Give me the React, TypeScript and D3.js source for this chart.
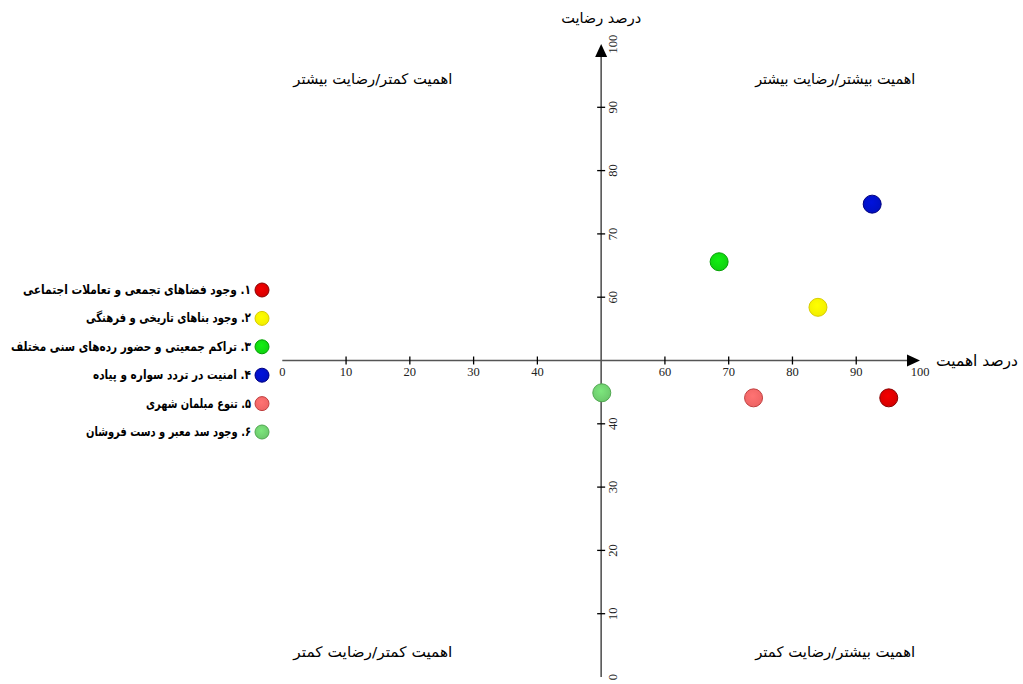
import React from "react";
import * as d3 from "d3";

const labels = [
  "۱. وجود فضاهای تجمعی و تعاملات اجتماعی",
  "۲. وجود بناهای تاریخی و فرهنگی",
  "۳. تراکم جمعیتی و حضور رده‌های سنی مختلف",
  "۴. امنیت در تردد سواره و پیاده",
  "۵. تنوع مبلمان شهری",
  "۶. وجود سد معبر و دست فروشان",
];
const importance = [95.1, 84.0, 68.5, 92.5, 73.9, 50.1];
const satisfaction = [44.1, 58.4, 65.6, 74.7, 44.1, 44.9];
const colors = ["#d40000", "#f2ee00", "#10d010", "#0010c0", "#ee6464", "#6cc86c"];
const strokes = ["#8a0000", "#d8cc00", "#00a000", "#000080", "#c04040", "#50a850"];
const xTicks = [0, 10, 20, 30, 40, 60, 70, 80, 90, 100];
const yTicks = [0, 10, 20, 30, 40, 60, 70, 80, 90, 100];
const quadrantLabels = [
  "اهمیت کمتر/رضایت بیشتر",
  "اهمیت بیشتر/رضایت بیشتر",
  "اهمیت کمتر/رضایت کمتر",
  "اهمیت بیشتر/رضایت کمتر",
];
const xTitle = "درصد اهمیت";
const yTitle = "درصد رضایت";

// layout (rendered widths of the Persian texts)
const legendWidths = [228, 165, 240, 158, 105, 165];
const quadWidths = [159, 160, 159, 160];

export default function App() {
  const W = 1023, H = 684;
  const x = d3.scaleLinear().domain([0, 100]).range([282.3, 920]);
  const y = d3.scaleLinear().domain([0, 100]).range([677, 44]);
  const cx = x(50), cy = y(50);
  const axisColor = "#555";
  const persian = "'DejaVu Sans', sans-serif";
  const serif = "'Liberation Serif', 'DejaVu Serif', serif";
  const quadPos = [
    [x(14.2), 84],
    [x(86.7), 84],
    [x(14.2), 657],
    [x(86.7), 657],
  ];
  return (
    <svg width={W} height={H} style={{ position: "absolute", left: 0, top: 0, background: "#fff" }}>
      <defs>
        {colors.map((c, i) => (
          <radialGradient key={i} id={`g${i}`} cx="45%" cy="40%" r="60%">
            <stop offset="0%" stopColor={d3.color(c)!.brighter(0.4).formatHex()} />
            <stop offset="100%" stopColor={c} />
          </radialGradient>
        ))}
      </defs>
      {/* axes */}
      <line x1={x(0)} x2={x(100) - 12} y1={cy} y2={cy} stroke={axisColor} strokeWidth={1.6} />
      <path d={`M${x(100) - 13},${cy - 6} L${x(100)},${cy} L${x(100) - 13},${cy + 6} Z`} fill="#000" />
      <line x1={cx} x2={cx} y1={y(0)} y2={y(100) + 12} stroke={axisColor} strokeWidth={1.6} />
      <path d={`M${cx - 6},${y(100) + 13} L${cx},${y(100)} L${cx + 6},${y(100) + 13} Z`} fill="#000" />
      {xTicks.map((t) => (
        <g key={`x${t}`}>
          {t !== 0 && t !== 100 && (
            <line x1={x(t)} x2={x(t)} y1={cy - 4} y2={cy + 4} stroke="#000" strokeWidth={1.3} />
          )}
          <text x={x(t)} y={cy + 15} textAnchor="middle" fontFamily={serif} fontSize={12.5} fill="#222">
            {t}
          </text>
        </g>
      ))}
      {yTicks.map((t) => (
        <g key={`y${t}`}>
          {t !== 0 && t !== 100 && (
            <line x1={cx - 4} x2={cx + 4} y1={y(t)} y2={y(t)} stroke="#000" strokeWidth={1.3} />
          )}
          <text
            transform={`translate(${cx + 16},${y(t)}) rotate(-90)`}
            textAnchor="middle"
            fontFamily={serif}
            fontSize={12.5}
            fill="#222"
          >
            {t}
          </text>
        </g>
      ))}
      {/* axis titles */}
      <text x={cx} y={23} textAnchor="middle" fontFamily={persian} fontSize={14.5} fill="#000" direction="rtl">
        {yTitle}
      </text>
      <text x={1018} y={cy + 5} textAnchor="start" fontFamily={persian} fontSize={15.5} fill="#000" direction="rtl">
        {xTitle}
      </text>
      {/* quadrant labels */}
      {quadrantLabels.map((q, i) => (
        <text
          key={q + i}
          x={quadPos[i][0]}
          y={quadPos[i][1]}
          textAnchor="middle"
          fontFamily={persian}
          fontSize={14.5}
          fill="#000"
          direction="rtl"
          textLength={quadWidths[i]}
          lengthAdjust="spacingAndGlyphs"
        >
          {q}
        </text>
      ))}
      {/* points */}
      {importance.map((v, i) => (
        <circle
          key={`p${i}`}
          cx={x(v)}
          cy={y(satisfaction[i])}
          r={9}
          fill={`url(#g${i})`}
          stroke={strokes[i]}
          strokeWidth={1}
        />
      ))}
      {/* legend */}
      {labels.map((l, i) => {
        const ly = 290 + i * 28.4;
        return (
          <g key={`l${i}`}>
            <circle cx={262} cy={ly} r={7} fill={`url(#g${i})`} stroke={strokes[i]} strokeWidth={1} />
            <text
              x={251}
              y={ly + 4}
              textAnchor="start"
              direction="rtl"
              fontFamily={persian}
              fontWeight="bold"
              fontSize={13}
              fill="#000"
              textLength={legendWidths[i]}
              lengthAdjust="spacingAndGlyphs"
            >
              {l}
            </text>
          </g>
        );
      })}
    </svg>
  );
}
